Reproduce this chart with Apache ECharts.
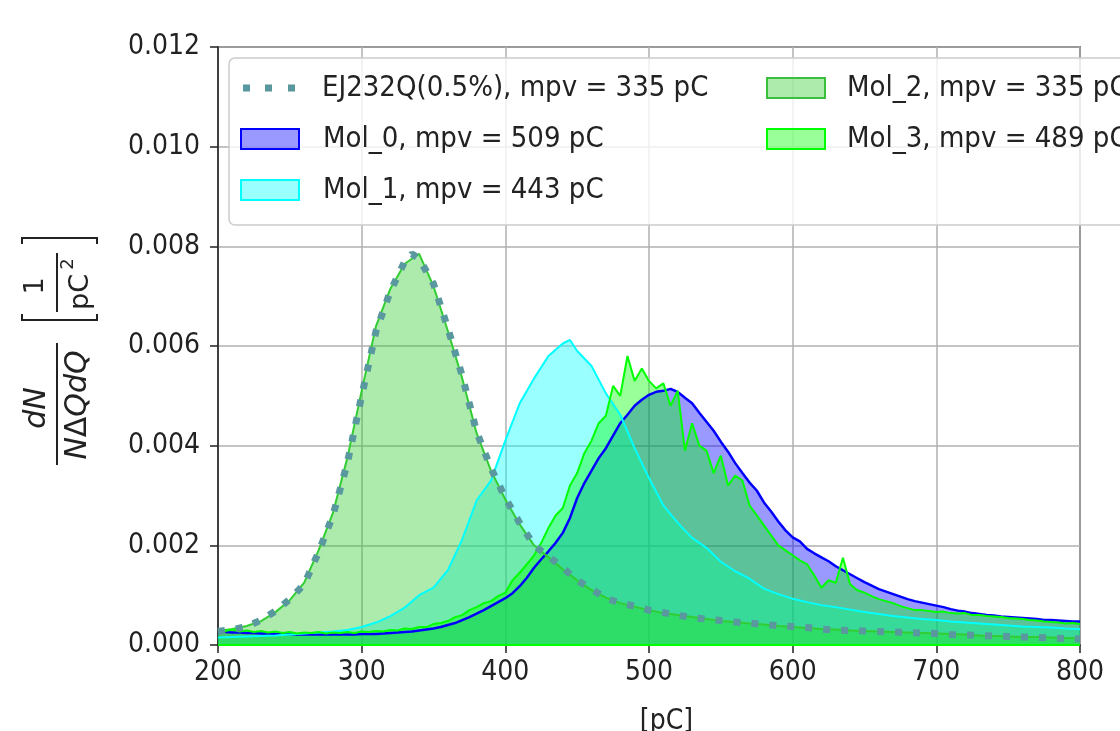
<!DOCTYPE html>
<html>
<head>
<meta charset="utf-8">
<script src="https://cdn.jsdelivr.net/npm/echarts@6/dist/echarts.min.js"></script>
<style>
html,body{margin:0;padding:0;background:#fff;}
#chart{width:1120px;height:731px;}
</style>
</head>
<body>
<div id="chart"></div>
<script>
// ---- data (values in units of 1e-3 1/pC^2) ----
var qEJ = [200,210,220,230,240,250,260,270,280,290,300,310,320,330,335,340,350,360,370,380,390,400,410,420,430,440,450,460,470,480,490,500,510,520,530,540,550,560,570,580,590,600,610,620,630,640,650,660,670,680,690,700,710,720,730,740,750,760,770,780,790,800];
var ej232q = [0.27,0.31,0.37,0.50,0.68,0.92,1.22,1.86,2.60,3.65,5.00,6.30,7.10,7.70,7.85,7.75,7.25,6.35,5.40,4.28,3.55,2.95,2.45,2.00,1.78,1.55,1.30,1.12,0.94,0.84,0.78,0.70,0.65,0.60,0.55,0.52,0.49,0.46,0.44,0.41,0.39,0.37,0.35,0.32,0.30,0.29,0.28,0.27,0.26,0.25,0.24,0.23,0.21,0.20,0.19,0.18,0.17,0.16,0.15,0.14,0.13,0.12];
var mol2 = [0.28,0.32,0.38,0.48,0.66,0.90,1.25,1.90,2.65,3.75,5.10,6.40,7.15,7.65,7.75,7.85,7.20,6.30,5.35,4.25,3.50,2.92,2.42,2.00,1.76,1.52,1.30,1.10,0.95,0.84,0.77,0.70,0.64,0.60,0.56,0.52,0.48,0.46,0.43,0.41,0.38,0.36,0.34,0.32,0.31,0.29,0.28,0.27,0.26,0.25,0.24,0.23,0.22,0.21,0.19,0.18,0.17,0.16,0.16,0.15,0.14,0.13];

var qM1 = [200,210,220,230,240,250,260,270,280,290,300,310,320,330,340,350,360,370,380,390,400,410,420,430,440,445,450,460,470,480,490,500,510,520,530,540,550,560,570,580,590,600,610,620,630,640,650,660,670,680,690,700,710,720,730,740,750,760,770,780,790,800];
var mol1 = [0.15,0.16,0.17,0.18,0.19,0.21,0.23,0.25,0.27,0.30,0.36,0.45,0.58,0.75,1.00,1.15,1.50,2.12,2.90,3.30,4.10,4.85,5.35,5.80,6.05,6.12,5.90,5.60,5.05,4.62,3.95,3.35,2.80,2.45,2.15,1.95,1.67,1.48,1.33,1.13,1.02,0.93,0.86,0.80,0.76,0.71,0.66,0.62,0.58,0.55,0.52,0.50,0.47,0.45,0.43,0.41,0.39,0.37,0.36,0.35,0.33,0.32];

var q5 = [200,205,210,215,220,225,230,235,240,245,250,255,260,265,270,275,280,285,290,295,300,305,310,315,320,325,330,335,340,345,350,355,360,365,370,375,380,385,390,395,400,405,410,415,420,425,430,435,440,445,450,455,460,465,470,475,480,485,490,495,500,505,510,515,520,525,530,535,540,545,550,555,560,565,570,575,580,585,590,595,600,605,610,615,620,625,630,635,640,645,650,655,660,665,670,675,680,685,690,695,700,705,710,715,720,725,730,735,740,745,750,755,760,765,770,775,780,785,790,795,800];
var mol0 = [0.26,0.26,0.25,0.25,0.24,0.24,0.23,0.23,0.22,0.22,0.22,0.21,0.21,0.21,0.21,0.21,0.21,0.21,0.21,0.21,0.22,0.22,0.22,0.23,0.24,0.25,0.26,0.27,0.29,0.31,0.33,0.36,0.40,0.44,0.50,0.56,0.63,0.70,0.78,0.86,0.94,1.04,1.18,1.35,1.55,1.72,1.88,2.05,2.25,2.55,2.95,3.25,3.50,3.75,3.95,4.20,4.45,4.62,4.80,4.92,5.02,5.08,5.10,5.14,5.08,4.96,4.85,4.66,4.48,4.30,4.08,3.88,3.65,3.45,3.26,3.10,2.86,2.68,2.48,2.30,2.16,2.08,1.93,1.84,1.76,1.68,1.58,1.50,1.42,1.34,1.26,1.19,1.12,1.07,1.02,0.97,0.92,0.88,0.85,0.82,0.79,0.76,0.72,0.69,0.67,0.64,0.62,0.60,0.59,0.57,0.56,0.55,0.54,0.53,0.52,0.50,0.50,0.49,0.48,0.47,0.47];
var mol3 = [0.30,0.28,0.31,0.27,0.29,0.26,0.28,0.25,0.27,0.24,0.26,0.23,0.25,0.24,0.26,0.23,0.25,0.24,0.26,0.24,0.27,0.26,0.28,0.27,0.30,0.29,0.33,0.32,0.36,0.36,0.42,0.44,0.48,0.56,0.60,0.70,0.76,0.84,0.88,0.98,1.05,1.30,1.45,1.62,1.80,2.05,2.35,2.60,2.75,3.20,3.45,3.85,4.10,4.45,4.60,5.20,5.00,5.80,5.30,5.55,5.30,5.15,5.25,4.80,5.10,3.90,4.45,4.00,3.90,3.45,3.80,3.20,3.40,3.30,2.80,2.60,2.40,2.20,2.00,1.90,1.80,1.70,1.62,1.40,1.15,1.30,1.25,1.75,1.22,1.10,1.05,0.98,0.92,0.88,0.84,0.78,0.74,0.70,0.70,0.68,0.66,0.67,0.64,0.63,0.64,0.60,0.60,0.58,0.57,0.56,0.54,0.53,0.52,0.50,0.49,0.47,0.46,0.45,0.43,0.44,0.42];

var yTicks = [0,2,4,6,8,10,12];
var names = {
  ej: 'EJ232Q(0.5%), mpv = 335 pC',
  m0: 'Mol_0, mpv = 509 pC',
  m1: 'Mol_1, mpv = 443 pC',
  m2: 'Mol_2, mpv = 335 pC',
  m3: 'Mol_3, mpv = 489 pC'
};

function pairs(xs, ys){ return xs.map(function(x,i){ return [x, ys[i]]; }); }

var FONT = '"DejaVu Sans Condensed", "DejaVu Sans", sans-serif';
var MATH = '"DejaVu Sans", sans-serif';
var TXT = '#222';

var chart = echarts.init(document.getElementById('chart'));

function areaSeries(name, xs, ys, lineColor, fill, lw, extra){
  var s = {
    name: name, type: 'line', data: pairs(xs, ys), symbol: 'none', silent: true,
    lineStyle: {color: lineColor, width: lw},
    itemStyle: {color: lineColor},
    areaStyle: {color: fill, opacity: 1, origin: 'start'},
    emphasis: {disabled: true}
  };
  if (extra) for (var k in extra) s[k] = extra[k];
  return s;
}

var legendText = {color: TXT, fontSize: 29, fontFamily: FONT};

var option = {
  animation: false,
  backgroundColor: '#fff',
  grid: {left: 218, right: 40, top: 47, bottom: 86, show: true, borderColor: '#222', borderWidth: 1.5,
    backgroundColor: 'transparent', containLabel: false, outerBoundsMode: 'none'},
  xAxis: {
    type: 'value', min: 200, max: 800, interval: 100,
    name: '[pC]', nameLocation: 'middle', nameGap: 63,
    nameTextStyle: {color: TXT, fontSize: 28, fontFamily: FONT, padding: [0,0,0,35]},
    axisLine: {show: true, lineStyle: {color: '#222', width: 1.5}},
    axisTick: {show: true, inside: false, length: 8, lineStyle: {color: '#222', width: 1.5}},
    axisLabel: {color: TXT, fontSize: 28, fontFamily: FONT, margin: 14},
    splitLine: {show: true, lineStyle: {color: '#b0b0b0', width: 1.5}}
  },
  yAxis: {
    type: 'value', min: yTicks[0], max: yTicks[yTicks.length-1], interval: 2,
    axisLine: {show: true, lineStyle: {color: '#222', width: 1.5}},
    axisTick: {show: true, inside: false, length: 8, lineStyle: {color: '#222', width: 1.5}},
    axisLabel: {color: TXT, fontSize: 28, fontFamily: FONT, margin: 18,
      formatter: function(v){ return (v/1000).toFixed(3); }},
    splitLine: {show: true, lineStyle: {color: '#b0b0b0', width: 1.5}}
  },
  legend: [
    {
      data: [{name: names.ej, icon: 'path://M0,0h7v7h-7z M22,0h7v7h-7z M45,0h7v7h-7z', itemStyle: {color: '#5a98a0', borderWidth: 0}}],
      left: 243, top: 73.5, padding: 0, orient: 'vertical', itemWidth: 52, itemHeight: 7,
      selectedMode: false, textStyle: Object.assign({padding: [0,0,0,22]}, legendText), z: 6
    },
    {
      data: [
        {name: names.m0, icon: 'rect', itemStyle: {color: 'rgba(0,0,255,0.4)', borderColor: '#0000ff', borderWidth: 2}},
        {name: names.m1, icon: 'rect', itemStyle: {color: 'rgba(0,255,255,0.4)', borderColor: '#00ffff', borderWidth: 2}}
      ],
      left: 240, top: 124.5, padding: 0, orient: 'vertical', itemGap: 22, itemWidth: 58, itemHeight: 20,
      selectedMode: false, textStyle: Object.assign({padding: [0,0,0,19]}, legendText), z: 6
    },
    {
      data: [
        {name: names.m2, icon: 'rect', itemStyle: {color: 'rgba(50,205,50,0.4)', borderColor: '#3cbf3c', borderWidth: 2}},
        {name: names.m3, icon: 'rect', itemStyle: {color: 'rgba(0,255,0,0.4)', borderColor: '#00ff00', borderWidth: 2}}
      ],
      left: 766, top: 73.5, padding: 0, orient: 'vertical', itemGap: 22, itemWidth: 58, itemHeight: 20,
      selectedMode: false, textStyle: Object.assign({padding: [0,0,0,17]}, legendText), z: 6
    }
  ],
  graphic: [
    {
      type: 'rect', z: 3, silent: true,
      shape: {x: 229, y: 58, width: 1000, height: 167, r: 6},
      style: {fill: 'rgba(255,255,255,0.8)', stroke: '#cccccc', lineWidth: 1.5}
    },
    {
      type: 'group', x: 57, y: 470, rotation: Math.PI/2, z: 5, silent: true,
      children: [
        {type: 'line', shape: {x1: 5, y1: 0, x2: 127, y2: 0}, style: {stroke: '#222', lineWidth: 2}},
        {type: 'text', style: {text: 'dN', x: 62, y: -20, fill: TXT, fontSize: 30, fontStyle: 'italic', fontFamily: MATH, align: 'center', verticalAlign: 'middle'}},
        {type: 'text', style: {text: '{i|N}{u|Δ}{i|QdQ}', x: 65, y: 21, fill: TXT, align: 'center', verticalAlign: 'middle',
          rich: {i: {fontSize: 30, fontStyle: 'italic', fontFamily: MATH, fill: TXT}, u: {fontSize: 30, fontFamily: MATH, fill: TXT}}}},
        {type: 'polyline', shape: {points: [[156,-35],[150,-35],[150,40],[156,40]]}, style: {stroke: '#222', lineWidth: 2, fill: null}},
        {type: 'line', shape: {x1: 158, y1: 0, x2: 217, y2: 0}, style: {stroke: '#222', lineWidth: 2}},
        {type: 'text', style: {text: '1', x: 184, y: -21, fill: TXT, fontSize: 27, fontFamily: MATH, align: 'center', verticalAlign: 'middle'}},
        {type: 'text', style: {text: 'pC', x: 178, y: 24, fill: TXT, fontSize: 27, fontFamily: MATH, align: 'center', verticalAlign: 'middle'}},
        {type: 'text', style: {text: '2', x: 206, y: 11, fill: TXT, fontSize: 18, fontFamily: MATH, align: 'center', verticalAlign: 'middle'}},
        {type: 'polyline', shape: {points: [[226,-35],[232,-35],[232,40],[226,40]]}, style: {stroke: '#222', lineWidth: 2, fill: null}}
      ]
    }
  ],
  series: [
    areaSeries(names.m0, q5, mol0, '#0000ff', 'rgba(0,0,255,0.4)', 2.5),
    areaSeries(names.m1, qM1, mol1, '#00ffff', 'rgba(0,255,255,0.4)', 2),
    areaSeries(names.m2, qEJ, mol2, '#32cd32', 'rgba(50,205,50,0.4)', 2),
    areaSeries(names.m3, q5, mol3, '#00ff00', 'rgba(0,255,0,0.4)', 2, {
      markLine: {silent: true, symbol: 'none', label: {show: false},
        lineStyle: {color: '#00ff00', width: 2, type: 'solid'}, data: [{yAxis: 0}]}
    }),
    {
      name: names.ej, type: 'line', data: pairs(qEJ, ej232q), symbol: 'none', silent: true,
      lineStyle: {color: '#5a98a0', width: 7, type: [7, 11], cap: 'butt'},
      itemStyle: {color: '#5a98a0'},
      emphasis: {disabled: true}
    }
  ]
};
chart.setOption(option);
</script>
</body>
</html>
